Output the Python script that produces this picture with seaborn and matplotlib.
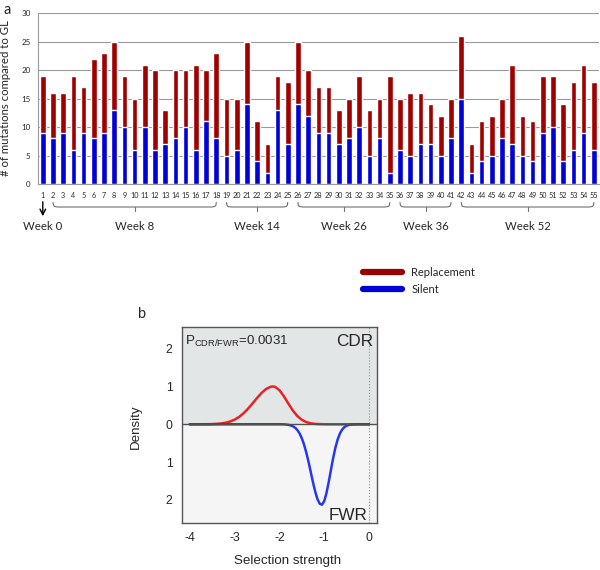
import numpy as np
import matplotlib
matplotlib.use("Agg")
import matplotlib.pyplot as plt
import matplotlib.transforms as mtransforms
from matplotlib.lines import Line2D
import seaborn as sns

# ---- dados do painel a ----
clones = [str(i) for i in range(1, 56)]
silent = [9, 8, 9, 6, 9, 8, 9, 13, 10, 6, 10, 6, 7, 8, 10, 6, 11, 8, 5, 6,
          14, 4, 2, 13, 7, 14, 12, 9, 9, 7, 8, 10, 5, 8, 2, 6, 5, 7, 7, 5,
          8, 15, 2, 4, 5, 8, 7, 5, 4, 9, 10, 4, 6, 9, 6]
total = [19, 16, 16, 19, 17, 22, 23, 25, 19, 15, 21, 20, 13, 20, 20, 21, 20, 23, 15, 15,
         25, 11, 7, 19, 18, 25, 20, 17, 17, 13, 15, 19, 13, 15, 19, 15, 16, 16, 14, 12,
         15, 26, 7, 11, 12, 15, 21, 12, 11, 19, 19, 14, 18, 21, 18]
weeks = ["Week 8", "Week 14", "Week 26", "Week 36", "Week 52"]
week_first = [2, 19, 26, 36, 42]
week_last = [18, 25, 35, 41, 55]

# ---- dados do painel b ----
x_cdr = [-4.0, -3.9, -3.8, -3.7, -3.6, -3.5, -3.4, -3.3, -3.2, -3.1, -3.0, -2.9, -2.8,
         -2.7, -2.6, -2.5, -2.4, -2.3, -2.2, -2.15, -2.1, -2.0, -1.9, -1.8, -1.7, -1.6,
         -1.5, -1.4, -1.3, -1.2, -1.1, -1.0, -0.9, -0.8, -0.7, -0.6, -0.5, -0.4, -0.3,
         -0.2, -0.1, 0.0]
d_cdr = [0.0, 0.0, 0.0, 0.001, 0.002, 0.005, 0.011, 0.022, 0.041, 0.073, 0.123, 0.194,
         0.291, 0.411, 0.549, 0.693, 0.826, 0.930, 0.990, 1.0, 0.992, 0.903, 0.741, 0.548,
         0.365, 0.219, 0.119, 0.058, 0.025, 0.010, 0.004, 0.001, 0.0, 0.0, 0.0, 0.0, 0.0,
         0.0, 0.0, 0.0, 0.0, 0.0]
x_fwr = [-4.0, -3.0, -2.0, -1.9, -1.85, -1.8, -1.75, -1.7, -1.65, -1.6, -1.55, -1.5,
         -1.45, -1.4, -1.35, -1.3, -1.25, -1.2, -1.15, -1.1, -1.05, -1.0, -0.95, -0.9,
         -0.85, -0.8, -0.75, -0.7, -0.65, -0.6, -0.55, -0.5, -0.45, -0.4, -0.35, -0.3,
         -0.2, -0.1, 0.0]
d_fwr = [0.0, 0.0, 0.0, 0.002, 0.007, 0.015, 0.028, 0.052, 0.090, 0.150, 0.240, 0.366,
         0.535, 0.745, 0.991, 1.261, 1.534, 1.782, 1.979, 2.099, 2.127, 2.034, 1.824,
         1.534, 1.211, 0.895, 0.621, 0.404, 0.247, 0.141, 0.076, 0.038, 0.018, 0.008,
         0.003, 0.001, 0.0, 0.0, 0.0]
p_value = "0.0031"

RED = "#a00000"
BLUE = "#0000d8"
W, H = 600, 570

sns.set_style("white")
plt.rcParams["font.family"] = ["Lato", "DejaVu Sans"]
plt.rcParams["mathtext.fontset"] = "custom"
plt.rcParams["mathtext.rm"] = "Liberation Sans"

fig = plt.figure(figsize=(6, 5.7), dpi=100)


def fx(px):
    return px / W


def fy(py):
    return 1 - py / H


# =========== painel a ===========
ax = fig.add_axes([fx(37.5), fy(184), fx(599) - fx(37.5), fy(13.3) - fy(184)])
sns.barplot(x=clones, y=total, color=RED, width=0.55, saturation=1, ax=ax)
sns.barplot(x=clones, y=silent, color=BLUE, width=0.55, saturation=1, ax=ax)
ax.set_xlim(-0.52, 54.5)
ax.set_ylim(0, 30)
ax.set_yticks(range(0, 31, 5))
ax.yaxis.grid(True, color="#999999", lw=0.8)
ax.set_axisbelow(True)
for s in ["top", "right"]:
    ax.spines[s].set_visible(False)
ax.spines["left"].set_color("#999999")
ax.spines["bottom"].set_color("#999999")
ax.tick_params(axis="y", labelsize=5.8, length=2, color="#999999", pad=3)
ax.tick_params(axis="x", labelsize=5.2, length=0, pad=6)
ax.set_xticks(np.arange(-0.5, 55, 1), minor=True)
ax.tick_params(axis="x", which="minor", length=3, color="#999999")
ax.set_ylabel("")
fig.text(fx(5.5), fy(98), "# of mutations compared to GL", rotation=90,
         ha="center", va="center", fontsize=8.2)
fig.text(fx(3), fy(3), "a", fontsize=10.5, ha="left", va="top")

# chaves das semanas
tr = mtransforms.blended_transform_factory(ax.transData, fig.transFigure)
for name, a, b in zip(weeks, week_first, week_last):
    x0, x1 = a - 1, b - 1
    xc = (x0 + x1) / 2
    yt, ym = 202.5, 207
    xs = [x0, x0 + 0.04, x0 + 0.15, x0 + 0.45, x1 - 0.45, x1 - 0.15, x1 - 0.04, x1]
    ys = [yt, ym - 1.8, ym - 0.5, ym, ym, ym - 0.5, ym - 1.8, yt]
    ax.plot(xs, [fy(v) for v in ys], color="#707070", lw=0.8, clip_on=False, transform=tr)
    ax.plot([xc, xc], [fy(ym), fy(211)], color="#707070", lw=0.8, clip_on=False, transform=tr)
    ax.annotate(name, xy=(xc, fy(226.5)), xycoords=("data", "figure fraction"),
                ha="center", va="center", fontsize=8.2, annotation_clip=False)

ax.annotate("", xy=(0, fy(219)), xytext=(0, fy(199)),
            xycoords=("data", "figure fraction"), textcoords=("data", "figure fraction"),
            arrowprops=dict(arrowstyle="->", color="black", lw=1.0), annotation_clip=False)
ax.annotate("Week 0", xy=(0, fy(226.5)), xycoords=("data", "figure fraction"),
            ha="center", va="center", fontsize=8.2, annotation_clip=False)

handles = [Line2D([], [], color="#990000", lw=4.5), Line2D([], [], color=BLUE, lw=4.5)]
fig.legend(handles, ["Replacement", "Silent"], loc="upper left",
           bbox_to_anchor=(fx(353), fy(257)), frameon=False, fontsize=8,
           handlelength=3.5, handletextpad=0.85, labelspacing=0.55)

# =========== painel b ===========
bx = fig.add_axes([fx(181.7), fy(523), fx(376.7) - fx(181.7), fy(326.7) - fy(523)])
bx.axhspan(0, 3, color="#e3e6e6", zorder=0)
bx.axhspan(-3, 0, color="#f5f5f5", zorder=0)
sns.lineplot(x=x_cdr, y=d_cdr, color="#ec2020", lw=1.8, ax=bx, zorder=2)
sns.lineplot(x=x_fwr, y=[-v for v in d_fwr], color="#2638ee", lw=1.8, ax=bx, zorder=2)
bx.axhline(0, color="#505050", lw=1.0, zorder=3)
bx.axvline(0, color="#909090", lw=0.8, ls=":", zorder=1)
bx.set_xlim(-4.18, 0.172)
bx.set_ylim(-2.61, 2.58)
bx.set_xticks([-4, -3, -2, -1, 0])
bx.set_xticklabels(["-4", "-3", "-2", "-1", "0"])
bx.set_yticks([-2, -1, 0, 1, 2])
bx.set_yticklabels(["2", "1", "0", "1", "2"])
bx.set_yticks([-1.5, -0.5, 0.5, 1.5], minor=True)
for s in bx.spines.values():
    s.set_color("#555555")
    s.set_linewidth(1.0)
lab_font = ["Liberation Sans", "DejaVu Sans"]
bx.tick_params(axis="both", which="both", length=4.5, width=0.9, color="#555555",
               labelsize=8.8, pad=2)
for t in bx.get_xticklabels() + bx.get_yticklabels():
    t.set_family(lab_font)
bx.set_xlabel("Selection strength", fontsize=9.6, family=lab_font)
bx.xaxis.set_label_coords((287.3 - 181.7) / 195, -0.165)
bx.set_ylabel("Density", fontsize=9.6, family=lab_font)
bx.yaxis.set_label_coords(-0.205, 0.49)

bx.text(0.015, 0.905, r"$\mathregular{P_{CDR/FWR}}$=" + p_value, transform=bx.transAxes,
        fontsize=9.6, family=lab_font, ha="left", va="baseline")
bx.text(0.98, 0.9, "CDR", transform=bx.transAxes, fontsize=12.3, family=lab_font,
        ha="right", va="baseline")
bx.text(0.955, 0.016, "FWR", transform=bx.transAxes, fontsize=12.3, family=lab_font,
        ha="right", va="baseline")
fig.text(fx(138), fy(318), "b", fontsize=10.5, ha="left", va="baseline")

fig.savefig("out.png", dpi=100)
